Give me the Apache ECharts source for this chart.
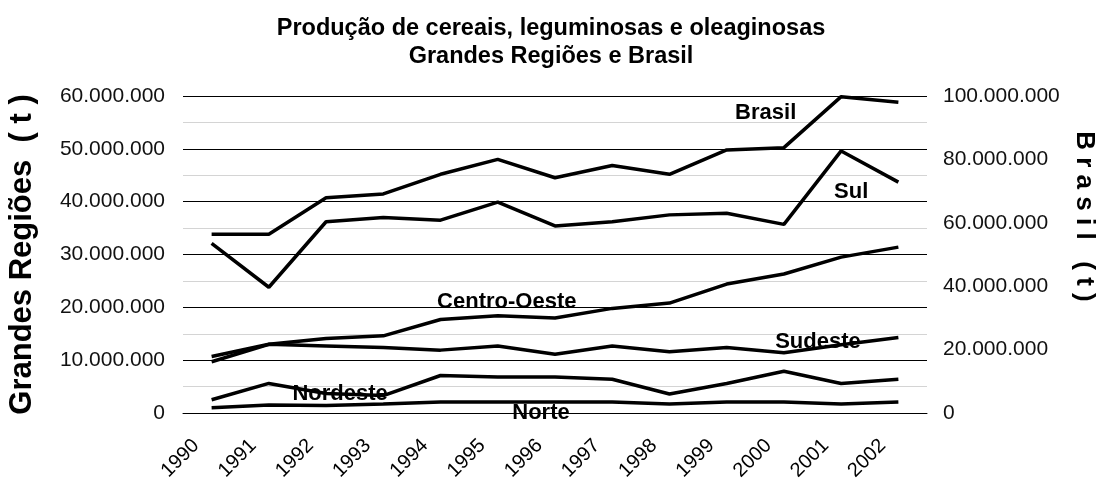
<!DOCTYPE html>
<html>
<head>
<meta charset="utf-8">
<script src="https://cdn.jsdelivr.net/npm/echarts@6/dist/echarts.min.js"></script>
<style>
  html, body { margin: 0; padding: 0; background: #fff; }
  #chart { width: 1102px; height: 480px; }
</style>
</head>
<body>
<div id="chart"></div>
<script>
// Produção de cereais, leguminosas e oleaginosas - Grandes Regiões e Brasil

const years = ['1990', '1991', '1992', '1993', '1994', '1995', '1996', '1997', '1998', '1999', '2000', '2001', '2002'];

// eixo direito (t)
const brasil = [56.4e6, 56.4e6, 67.9e6, 69.1e6, 75.3e6, 80.0e6, 74.2e6, 78.1e6, 75.3e6, 83.0e6, 83.7e6, 99.8e6, 98.0e6];

// eixo esquerdo (t)
const sul = [32.1e6, 23.8e6, 36.2e6, 37.0e6, 36.5e6, 39.9e6, 35.4e6, 36.2e6, 37.5e6, 37.8e6, 35.7e6, 49.6e6, 43.7e6];
const centroOeste = [9.7e6, 13.0e6, 14.1e6, 14.6e6, 17.7e6, 18.4e6, 18.0e6, 19.8e6, 20.8e6, 24.4e6, 26.3e6, 29.5e6, 31.4e6];
const sudeste = [10.7e6, 13.0e6, 12.7e6, 12.4e6, 11.9e6, 12.7e6, 11.1e6, 12.7e6, 11.6e6, 12.4e6, 11.4e6, 12.9e6, 14.3e6];
const nordeste = [2.5e6, 5.6e6, 3.7e6, 3.3e6, 7.1e6, 6.8e6, 6.8e6, 6.4e6, 3.6e6, 5.6e6, 7.9e6, 5.6e6, 6.4e6];
const norte = [1.0e6, 1.5e6, 1.4e6, 1.7e6, 2.1e6, 2.1e6, 2.1e6, 2.1e6, 1.7e6, 2.1e6, 2.1e6, 1.7e6, 2.1e6];

const chart = echarts.init(document.getElementById('chart'));

const FONT = 'Liberation Sans, Arial, sans-serif';

// 60000000 -> 60.000.000
function fmt(v) {
  return String(Math.round(v)).replace(/\B(?=(\d{3})+(?!\d))/g, '.');
}

// rótulo de texto preso a um ponto da série
function tag(text, idx, data, offset) {
  return {
    coord: [years[idx], data[idx]],
    label: { formatter: text, offset: offset }
  };
}

function line(name, data, yAxisIndex, mark) {
  return {
    name: name,
    type: 'line',
    yAxisIndex: yAxisIndex,
    data: data,
    symbol: 'none',
    lineStyle: { color: '#000', width: 3.5 },
    itemStyle: { color: '#000' },
    z: 3,
    markPoint: {
      symbol: 'circle',
      symbolSize: 1,
      itemStyle: { color: 'rgba(0,0,0,0)' },
      label: {
        show: true,
        position: 'inside',
        color: '#000',
        fontFamily: FONT,
        fontWeight: 'bold',
        fontSize: 22
      },
      data: [mark]
    }
  };
}

let option = {
  backgroundColor: '#fff',
  animation: false,
  title: {
    text: 'Produção de cereais, leguminosas e oleaginosas\nGrandes Regiões e Brasil',
    left: 'center',
    top: 10,
    padding: [5, 16, 5, 0],
    textStyle: {
      fontFamily: FONT,
      fontWeight: 'bold',
      fontSize: 23.5,
      lineHeight: 28,
      color: '#000'
    }
  },
  grid: { left: 183, right: 175, top: 96, bottom: 67, outerBoundsMode: 'none' },
  xAxis: {
    type: 'category',
    data: years,
    boundaryGap: true,
    axisLine: { show: true, lineStyle: { color: '#000', width: 1 } },
    axisTick: { show: false },
    axisLabel: {
      rotate: 45,
      margin: 14,
      padding: [0, 22, 0, 0],
      color: '#000',
      fontFamily: FONT,
      fontSize: 20,
      interval: 0
    }
  },
  yAxis: [
    {
      type: 'value',
      min: 0,
      max: 60e6,
      interval: 10e6,
      position: 'left',
      name: 'Grandes Regiões  ( t )',
      nameLocation: 'middle',
      nameGap: 145,
      nameTextStyle: {
        fontFamily: FONT,
        fontWeight: 'bold',
        fontSize: 31,
        color: '#000'
      },
      axisLine: { show: false },
      axisTick: { show: false },
      axisLabel: {
        margin: 18,
        color: '#111',
        fontFamily: FONT,
        fontSize: 21,
        formatter: fmt
      },
      splitLine: { show: true, lineStyle: { color: '#000', width: 1 } },
      minorTick: { show: false, splitNumber: 2 },
      minorSplitLine: { show: true, lineStyle: { color: '#d4d4d4', width: 1 } }
    },
    {
      type: 'value',
      min: 0,
      max: 100e6,
      interval: 20e6,
      position: 'right',
      name: 'B r a s i l   ( t )',
      nameLocation: 'middle',
      nameRotate: -90,
      nameGap: 140,
      nameTextStyle: {
        fontFamily: FONT,
        fontWeight: 'bold',
        fontSize: 26,
        color: '#000',
        padding: [0, 76, 0, 0]
      },
      axisLine: { show: false },
      axisTick: { show: false },
      axisLabel: {
        margin: 16,
        color: '#111',
        fontFamily: FONT,
        fontSize: 21,
        formatter: fmt
      },
      splitLine: { show: false }
    }
  ],
  series: [
    line('Brasil', brasil, 1, tag('Brasil', 9, brasil, [39, -37])),
    line('Sul', sul, 0, tag('Sul', 11, sul, [10, 41])),
    line('Centro-Oeste', centroOeste, 0, tag('Centro-Oeste', 5, centroOeste, [9, -14])),
    line('Sudeste', sudeste, 0, tag('Sudeste', 10, sudeste, [34, -11])),
    line('Nordeste', nordeste, 0, tag('Nordeste', 2, nordeste, [14, 0])),
    line('Norte', norte, 0, tag('Norte', 6, norte, [-14, 11]))
  ]
};

chart.setOption(option);
</script>
</body>
</html>
